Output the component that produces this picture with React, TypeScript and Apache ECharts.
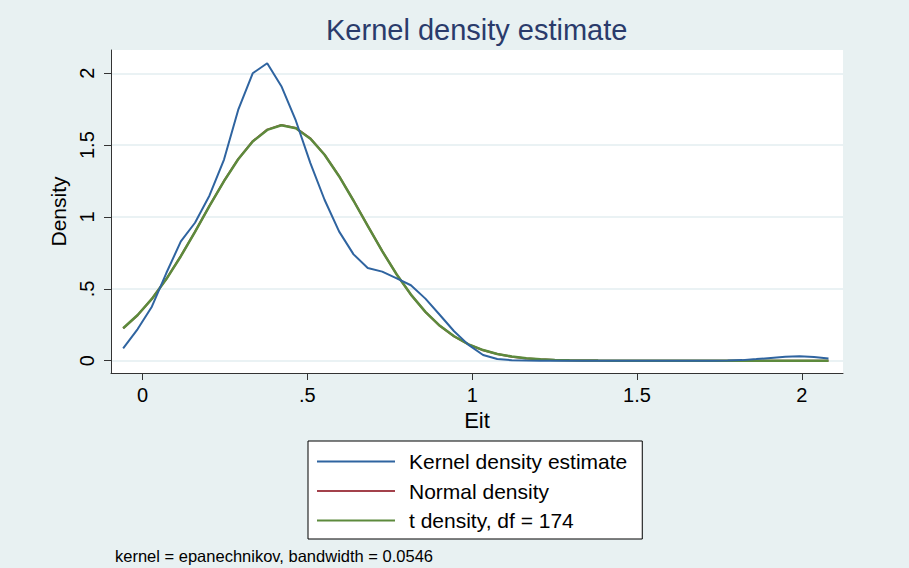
import React, { useEffect, useRef } from "react";
import * as echarts from "echarts";

const evalPoints = [
  -0.059, -0.015, 0.028, 0.072, 0.116, 0.159, 0.203, 0.247, 0.29, 0.334,
  0.378, 0.421, 0.465, 0.509, 0.552, 0.596, 0.64, 0.683, 0.727, 0.771,
  0.814, 0.858, 0.902, 0.945, 0.989, 1.033, 1.076, 1.12, 1.164, 1.207,
  1.251, 1.295, 1.338, 1.382, 1.426, 1.469, 1.513, 1.557, 1.6, 1.644,
  1.688, 1.731, 1.775, 1.819, 1.862, 1.906, 1.95, 1.993, 2.037, 2.081,
];

const kernelDensity = [
  0.086, 0.22, 0.376, 0.61, 0.83, 0.96, 1.15, 1.4, 1.745, 2.0,
  2.07, 1.91, 1.67, 1.375, 1.12, 0.9, 0.74, 0.645, 0.62, 0.573,
  0.525, 0.432, 0.318, 0.205, 0.11, 0.04, 0.012, 0.003, 0.001, 0,
  0, 0, 0, 0, 0, 0, 0, 0, 0, 0,
  0, 0.0005, 0.001, 0.004, 0.011, 0.019, 0.027, 0.031, 0.026, 0.016,
];

const normalDensity = [
  0.225, 0.317, 0.43, 0.569, 0.728, 0.898, 1.078, 1.251, 1.403, 1.527,
  1.608, 1.64, 1.619, 1.547, 1.434, 1.285, 1.114, 0.939, 0.763, 0.6,
  0.46, 0.339, 0.242, 0.169, 0.113, 0.073, 0.046, 0.028, 0.016, 0.0095,
  0.005, 0.003, 0.0015, 0.0007, 0.0003, 0.0001, 0, 0, 0, 0,
  0, 0, 0, 0, 0, 0, 0, 0, 0, 0,
];

const tDensity = [
  0.226, 0.318, 0.43, 0.568, 0.727, 0.897, 1.077, 1.25, 1.402, 1.525,
  1.606, 1.638, 1.617, 1.545, 1.433, 1.284, 1.113, 0.938, 0.762, 0.6,
  0.46, 0.34, 0.243, 0.17, 0.114, 0.074, 0.047, 0.029, 0.017, 0.01,
  0.0055, 0.0033, 0.0017, 0.0008, 0.0004, 0.0002, 0.0001, 0, 0, 0,
  0, 0, 0, 0, 0, 0, 0, 0, 0, 0,
];

const xTicks = [0, 0.5, 1, 1.5, 2];
const xTickLabels = ["0", ".5", "1", "1.5", "2"];
const yTicks = [0, 0.5, 1, 1.5, 2];
const yTickLabels = ["0", ".5", "1", "1.5", "2"];

const seriesNames = ["Kernel density estimate", "Normal density", "t density, df = 174"];
const titleText = "Kernel density estimate";
const noteText = "kernel = epanechnikov, bandwidth = 0.0546";
const xName = "Eit";
const yName = "Density";

const FONT = "'Liberation Sans', Arial, Helvetica, sans-serif";

function labelFor(ticks: number[], labels: string[], v: number): string {
  for (let i = 0; i < ticks.length; i++) {
    if (Math.abs(ticks[i] - v) < 1e-9) return labels[i];
  }
  return String(v);
}

function pairs(ys: number[]): number[][] {
  return evalPoints.map((x, i) => [x, ys[i]]);
}

export default function App() {
  const ref = useRef<HTMLDivElement>(null);

  useEffect(() => {
    document.body.style.margin = "0";
    if (!ref.current) return;
    const chart = echarts.init(ref.current, null, { renderer: "svg" });
    chart.setOption({
      animation: false,
      backgroundColor: "#e8f1f2",
      title: [
        {
          text: titleText,
          left: 321,
          top: 10,
          textStyle: { fontFamily: FONT, fontSize: 29, fontWeight: "normal", color: "#2a3b6b" },
        },
        {
          text: noteText,
          left: 110,
          top: 542,
          textStyle: { fontFamily: FONT, fontSize: 16.5, fontWeight: "normal", color: "#000" },
        },
      ],
      grid: {
        left: 111,
        top: 50,
        right: 66,
        bottom: 195,
        show: true,
        backgroundColor: "#ffffff",
        borderWidth: 0,
      },
      legend: {
        orient: "vertical",
        left: 308,
        top: 441,
        data: seriesNames,
        icon: "rect",
        itemWidth: 78,
        itemHeight: 2,
        itemGap: 8.5,
        padding: [10, 15, 8, 9],
        backgroundColor: "#ffffff",
        borderColor: "#000",
        borderWidth: 1,
        borderRadius: 0,
        textStyle: {
          fontFamily: FONT,
          fontSize: 21,
          color: "#000",
          lineHeight: 21,
          padding: [0, 0, 0, 9],
        },
      },
      xAxis: {
        type: "value",
        min: -0.0959,
        max: 2.125,
        name: xName,
        nameLocation: "middle",
        nameGap: 34,
        nameTextStyle: { fontFamily: FONT, fontSize: 22, color: "#000" },
        axisLine: { onZero: false, lineStyle: { color: "#333", width: 1 } },
        axisTick: { show: true, length: 7, customValues: xTicks, lineStyle: { color: "#333" } },
        axisLabel: {
          customValues: xTicks,
          margin: 12,
          fontFamily: FONT,
          fontSize: 20,
          color: "#000",
          formatter: (v: number) => labelFor(xTicks, xTickLabels, v),
        },
        splitLine: { show: false },
      },
      yAxis: {
        type: "value",
        min: -0.0856,
        max: 2.162,
        name: yName,
        nameLocation: "middle",
        nameRotate: 90,
        nameGap: 35,
        nameTextStyle: { fontFamily: FONT, fontSize: 21, color: "#000" },
        axisLine: { show: true, onZero: false, lineStyle: { color: "#333", width: 1 } },
        axisTick: { show: true, length: 7, customValues: yTicks, lineStyle: { color: "#333" } },
        axisLabel: {
          customValues: yTicks,
          rotate: 90,
          margin: 14,
          fontFamily: FONT,
          fontSize: 20,
          color: "#000",
          formatter: (v: number) => labelFor(yTicks, yTickLabels, v),
        },
        splitLine: { show: true, lineStyle: { color: "#e3eef0", width: 1.5 } },
      },
      series: [
        {
          name: seriesNames[0],
          type: "line",
          data: pairs(kernelDensity),
          showSymbol: false,
          color: "#2f64a0",
          lineStyle: { color: "#2f64a0", width: 2 },
          z: 3,
        },
        {
          name: seriesNames[1],
          type: "line",
          data: pairs(normalDensity),
          showSymbol: false,
          color: "#a3414b",
          lineStyle: { color: "#a3414b", width: 2 },
          z: 2,
        },
        {
          name: seriesNames[2],
          type: "line",
          data: pairs(tDensity),
          showSymbol: false,
          color: "#5d8a3c",
          lineStyle: { color: "#5d8a3c", width: 2.5 },
          z: 2,
        },
      ],
    });
    return () => chart.dispose();
  }, []);

  return (
    <div
      ref={ref}
      style={{ position: "absolute", left: 0, top: 0, width: 909, height: 568 }}
    />
  );
}
